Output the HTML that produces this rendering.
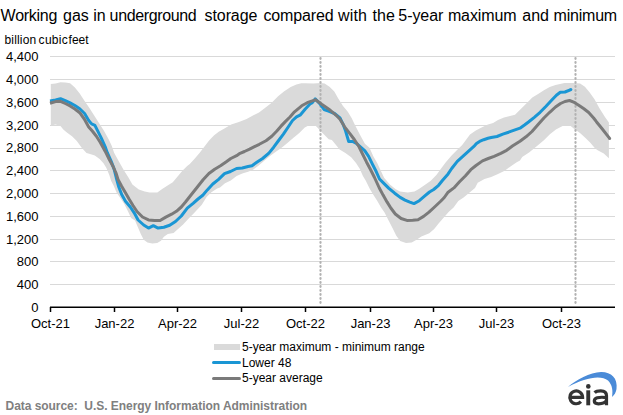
<!DOCTYPE html>
<html><head><meta charset="utf-8">
<style>
html,body{margin:0;padding:0;background:#fff;}
body{width:623px;height:415px;overflow:hidden;position:relative;}
svg{position:absolute;left:0;top:0;}
text{font-family:"Liberation Sans",sans-serif;white-space:pre;}
</style></head><body>
<svg width="623" height="415" viewBox="0 0 623 415">
<rect width="623" height="415" fill="#fff"/>
<g font-size="16" fill="#000"><text x="0.6" y="21" letter-spacing="-0.28">Working</text><text x="63.0" y="21" letter-spacing="0">gas</text><text x="93.3" y="21" letter-spacing="0">in</text><text x="109.6" y="21" letter-spacing="-0.36">underground</text><text x="204.6" y="21" letter-spacing="-0.1">storage</text><text x="263.4" y="21" letter-spacing="-0.12">compared</text><text x="337.9" y="21" letter-spacing="0.2">with</text><text x="372.6" y="21" letter-spacing="0">the</text><text x="398.3" y="21" letter-spacing="-0.05">5-year</text><text x="447.9" y="21" letter-spacing="-0.12">maximum</text><text x="522.3" y="21" letter-spacing="0">and</text><text x="553.5" y="21" letter-spacing="-0.2">minimum</text></g>
<g font-size="12" fill="#000"><text x="4.4" y="44" letter-spacing="0.2">billion</text><text x="38.6" y="44" letter-spacing="0.3">cubic</text><text x="68.6" y="44">feet</text></g>
<g stroke="#d9d9d9" stroke-width="1">
<line x1="50" x2="615" y1="56.5" y2="56.5"/>
<line x1="50" x2="615" y1="79.5" y2="79.5"/>
<line x1="50" x2="615" y1="102.5" y2="102.5"/>
<line x1="50" x2="615" y1="125.5" y2="125.5"/>
<line x1="50" x2="615" y1="148.5" y2="148.5"/>
<line x1="50" x2="615" y1="170.5" y2="170.5"/>
<line x1="50" x2="615" y1="193.5" y2="193.5"/>
<line x1="50" x2="615" y1="216.5" y2="216.5"/>
<line x1="50" x2="615" y1="239.5" y2="239.5"/>
<line x1="50" x2="615" y1="261.5" y2="261.5"/>
<line x1="50" x2="615" y1="284.5" y2="284.5"/>
</g>
<g font-size="13" fill="#000" text-anchor="end">
<text x="38.5" y="61">4,400</text>
<text x="38.5" y="84">4,000</text>
<text x="38.5" y="107">3,600</text>
<text x="38.5" y="130">3,200</text>
<text x="38.5" y="152">2,800</text>
<text x="38.5" y="175">2,400</text>
<text x="38.5" y="198">2,000</text>
<text x="38.5" y="221">1,600</text>
<text x="38.5" y="244">1,200</text>
<text x="38.5" y="266">800</text>
<text x="38.5" y="289">400</text>
<text x="38.5" y="312">0</text>
</g>
<g id="band"><polygon points="50.8,84.0 55.6,83.6 60.5,82.3 65.3,82.6 70.1,83.3 74.9,87.6 79.7,93.4 84.6,101.1 89.4,107.9 94.5,116.0 99.3,123.4 104.1,131.1 108.9,139.8 111.8,146.0 114.1,152.7 118.9,161.4 123.7,170.1 128.6,177.8 132.4,184.5 138.8,189.6 144.7,191.5 149.6,192.5 157.3,192.5 162.2,189.1 168.0,185.2 172.8,182.3 177.6,176.6 182.4,170.8 187.2,166.0 189.8,164.0 194.6,158.7 199.5,153.0 204.3,146.7 209.1,140.4 213.9,135.6 218.7,131.7 223.6,128.9 231.2,124.4 238.9,122.0 246.6,119.1 253.4,115.3 259.0,112.5 264.6,108.3 271.4,103.0 278.1,96.2 283.9,91.4 290.7,87.0 296.4,84.6 301.3,83.2 305.0,83.2 313.4,83.4 320.8,82.9 324.6,83.4 329.5,86.7 334.3,91.6 338.1,98.3 343.0,106.0 347.8,111.8 351.6,118.0 355.2,125.4 360.1,135.1 364.9,143.7 369.5,147.7 373.4,156.4 377.2,163.1 380.0,168.9 384.1,177.8 389.9,184.5 395.7,189.3 400.0,191.6 407.7,192.5 414.5,191.6 419.3,188.7 425.1,184.8 430.8,180.8 436.6,174.8 440.0,170.1 445.8,162.3 451.6,155.6 457.3,149.8 462.2,145.0 470.0,134.5 475.8,130.5 481.6,127.4 487.3,124.8 493.1,122.9 498.0,120.0 504.0,117.5 510.0,116.0 515.0,114.8 520.8,109.0 526.6,103.2 532.3,97.4 538.1,94.1 543.9,90.2 549.7,86.9 555.5,84.9 564.6,82.9 574.3,82.9 580.1,83.4 584.9,86.7 589.7,92.5 594.5,99.3 599.3,108.0 604.8,116.7 608.9,122.5 608.9,158.3 603.8,153.5 598.1,150.6 595.2,148.6 590.3,142.8 585.5,138.0 580.0,133.1 574.0,128.8 570.4,125.8 563.1,125.8 555.9,129.4 549.9,134.3 543.9,140.3 536.7,146.3 529.4,152.3 522.2,157.1 520.0,160.6 516.3,162.5 510.5,166.4 504.7,170.7 498.0,174.1 491.2,177.0 484.5,178.9 477.7,182.8 475.0,188.0 468.4,193.5 463.6,197.5 458.3,201.0 453.6,207.5 448.6,212.0 443.8,217.5 439.0,223.1 434.2,228.9 429.3,233.3 421.4,236.5 416.6,239.7 411.7,242.6 406.0,243.1 400.2,241.1 396.3,235.8 392.5,228.1 388.6,220.4 384.7,212.7 381.2,207.7 377.3,200.9 373.5,195.1 369.6,188.4 365.8,180.7 362.8,175.7 359.9,168.9 356.0,163.1 351.2,157.3 345.4,153.0 339.6,149.6 335.8,144.8 331.9,140.0 328.7,139.2 324.3,134.8 320.2,130.8 318.3,128.5 315.4,125.6 308.6,125.6 304.8,127.5 299.0,133.3 293.2,138.1 287.4,143.0 281.6,147.8 275.5,152.0 270.3,155.8 264.5,160.6 258.7,165.4 253.0,169.8 248.1,171.7 242.3,173.6 236.6,176.0 230.8,180.4 225.0,183.3 220.0,187.5 217.2,188.4 211.4,192.3 206.6,197.1 201.8,204.8 198.3,208.6 193.9,213.3 188.9,218.3 183.1,224.5 175.8,231.0 173.6,233.0 167.8,233.9 163.9,236.8 161.0,240.7 157.2,243.1 152.3,243.6 147.5,242.6 143.7,239.7 140.8,233.9 137.9,227.2 135.0,220.4 131.1,218.0 128.2,211.8 124.3,204.1 120.5,198.3 116.6,192.5 113.7,185.8 111.2,181.0 109.3,174.9 106.4,168.1 103.5,163.3 99.6,159.0 94.8,155.6 90.0,154.0 86.5,153.1 81.7,147.8 76.8,141.0 72.0,136.2 67.2,132.8 63.3,129.5 60.5,126.1 55.6,124.6 50.8,125.6" fill="#dadada"/></g>
<g stroke="#b2b2b2" stroke-width="2.2" stroke-dasharray="0.8 3.2" stroke-linecap="round">
<line x1="320.5" x2="320.5" y1="58" y2="306"/>
<line x1="575.5" x2="575.5" y1="58" y2="306"/>
</g>
<g id="lines"><polyline points="50.0,100.9 55.6,100.0 60.5,98.7 65.3,100.7 70.1,102.9 74.9,105.5 79.7,108.7 84.6,113.5 88.7,120.5 91.6,123.9 94.9,125.3 97.3,130.2 101.2,137.9 105.1,146.6 107.3,152.7 111.2,161.4 114.1,169.1 116.2,177.5 118.8,187.0 121.7,194.5 125.5,201.2 130.3,207.0 134.2,212.8 138.1,220.0 143.7,225.0 148.5,228.1 153.3,225.7 158.1,228.1 163.9,227.2 169.7,225.3 175.5,221.5 181.3,216.0 187.3,208.1 193.1,203.3 198.0,199.0 202.8,195.2 207.3,189.9 212.8,184.0 218.6,179.3 224.5,173.7 230.5,171.5 236.6,168.5 242.3,168.0 248.1,166.5 252.0,165.7 256.8,162.2 262.6,158.5 268.9,153.1 273.7,147.2 278.6,140.5 283.4,134.2 288.2,127.0 292.5,120.5 296.5,116.8 300.5,114.8 305.3,109.0 310.0,104.0 312.3,102.7 315.2,98.9 319.8,103.6 324.0,109.5 328.5,111.2 334.5,113.5 340.0,118.0 342.9,123.8 345.6,131.0 348.7,141.5 352.5,141.5 356.5,143.5 360.1,146.6 364.7,150.6 368.6,156.4 372.4,164.1 376.3,171.8 379.5,179.0 383.1,182.6 388.9,188.4 394.7,193.2 400.2,197.4 405.0,200.1 409.8,202.1 414.0,203.6 419.3,200.7 425.1,195.7 429.5,192.0 433.7,189.5 438.6,185.3 442.4,180.5 448.1,173.9 451.7,168.5 457.3,161.4 463.1,156.1 468.9,150.8 474.7,145.6 476.5,143.5 479.6,141.4 483.7,139.7 488.0,138.3 491.2,137.5 497.0,136.5 502.8,134.1 508.6,132.2 514.3,130.1 520.0,128.2 524.5,125.0 528.5,122.0 534.3,117.3 540.1,112.3 545.8,106.5 551.6,100.3 556.4,95.3 560.3,92.3 565.0,92.0 570.9,89.6" fill="none" stroke="#1a96d4" stroke-width="3" stroke-linejoin="round" stroke-linecap="butt"/><circle cx="570.9" cy="89.6" r="1.5" fill="#1a96d4"/>
<polyline points="50.0,103.3 55.6,101.6 60.5,101.3 65.3,103.5 70.1,105.9 74.9,109.0 79.7,112.7 84.3,119.0 88.7,127.0 92.5,131.3 96.4,136.2 100.2,142.2 103.5,148.3 105.4,151.7 109.3,159.5 113.1,166.5 116.0,173.0 118.0,179.5 121.5,186.0 125.3,192.5 129.2,199.3 133.0,205.5 137.0,211.5 142.5,217.0 148.5,219.9 154.5,220.4 160.1,220.5 165.8,217.1 171.6,214.2 176.4,211.3 181.3,207.0 185.5,202.0 191.4,194.5 196.6,188.0 203.1,179.8 208.9,173.5 214.7,169.2 220.5,165.8 226.0,162.0 230.8,158.5 236.6,155.7 240.0,153.3 244.5,151.5 249.6,149.2 254.5,146.7 259.3,144.3 266.0,140.7 271.8,136.2 276.6,131.3 280.8,126.4 285.3,121.6 290.0,117.0 294.5,111.8 301.7,105.8 307.2,102.7 314.5,100.1 315.5,99.8 321.7,104.3 328.9,109.2 336.2,115.3 340.0,119.2 344.6,126.8 349.5,133.1 354.3,139.5 358.9,146.5 362.8,154.5 366.6,162.2 370.5,169.5 374.5,177.5 379.3,188.0 383.1,195.1 387.0,201.9 390.8,208.0 395.3,214.0 401.1,218.5 406.9,220.4 412.7,220.2 418.0,219.7 423.6,216.4 429.0,212.1 435.1,206.5 440.9,201.0 444.3,197.5 448.1,192.2 453.9,187.9 459.5,181.7 465.3,176.0 470.8,169.7 476.0,165.5 482.5,160.9 488.3,158.5 494.1,156.3 500.8,153.3 506.6,150.3 512.4,146.0 520.0,141.2 526.0,136.8 532.0,131.5 538.1,124.5 543.9,118.0 549.7,112.3 555.5,107.0 560.5,103.5 565.0,101.5 569.5,100.5 574.3,102.4 579.1,105.5 583.9,108.8 588.7,112.5 593.6,118.0 596.4,121.7 601.9,128.5 609.6,138.4" fill="none" stroke="#7a7a7a" stroke-width="3" stroke-linejoin="round" stroke-linecap="butt"/><circle cx="609.6" cy="138.4" r="1.5" fill="#7a7a7a"/></g>
<g stroke="#000" stroke-width="1.5">
<line x1="50" x2="615" y1="307.3" y2="307.3"/>
<line x1="50.5" x2="50.5" y1="307" y2="312"/>
<line x1="114.5" x2="114.5" y1="307" y2="312"/>
<line x1="177.5" x2="177.5" y1="307" y2="312"/>
<line x1="241.5" x2="241.5" y1="307" y2="312"/>
<line x1="305.5" x2="305.5" y1="307" y2="312"/>
<line x1="370.5" x2="370.5" y1="307" y2="312"/>
<line x1="433.5" x2="433.5" y1="307" y2="312"/>
<line x1="496.5" x2="496.5" y1="307" y2="312"/>
<line x1="561.5" x2="561.5" y1="307" y2="312"/>
</g>
<g font-size="13" fill="#000" text-anchor="middle">
<text x="50.5" y="328">Oct-21</text>
<text x="114.5" y="328">Jan-22</text>
<text x="177.5" y="328">Apr-22</text>
<text x="241.5" y="328">Jul-22</text>
<text x="305.5" y="328">Oct-22</text>
<text x="370.5" y="328">Jan-23</text>
<text x="433.5" y="328">Apr-23</text>
<text x="496.5" y="328">Jul-23</text>
<text x="561.5" y="328">Oct-23</text>
</g>
<rect x="214" y="344" width="26" height="6" fill="#dadada"/>
<line x1="213.5" x2="239.5" y1="362.5" y2="362.5" stroke="#1a96d4" stroke-width="3" stroke-linecap="round"/>
<line x1="213.5" x2="239.5" y1="378.5" y2="378.5" stroke="#7a7a7a" stroke-width="3" stroke-linecap="round"/>
<g font-size="12" fill="#000">
<text x="242" y="351">5-year maximum - minimum range</text>
<text x="242" y="366.5">Lower 48</text>
<text x="242" y="382">5-year average</text>
</g>
<text x="5.5" y="409.5" font-size="12" font-weight="bold" letter-spacing="-0.04" fill="#808080">Data source:  U.S. Energy Information Administration</text>
<g id="logo">
<path d="M568 386.9 C576 380 590 372.2 601 372 C611 371.8 618 378 616.5 389 C616 392 614.5 395 612 397 C613 391 612.5 385 608 380.5 C601 374.5 585 377.5 568 386.9 Z" fill="#4a8bd8"/>
<g fill="none" stroke="#333" stroke-width="3.2">
<path d="M569.8 397.3 H582.6 A6.4 6.4 0 1 0 580.9 401.7"/>
<path d="M594.6 392.6 C596 391.2 598.5 390.8 600.8 390.8 C604.6 390.8 606.5 392.6 606.5 395.8 V405.3"/>
<path d="M606.5 397.6 C603.5 397.2 599.5 397.2 597.2 397.8 C595.2 398.4 594.3 399.8 594.3 401.1 C594.3 402.9 595.9 403.8 598.4 403.8 C602.2 403.8 605.6 402.4 606.5 400.4"/>
</g>
<rect x="586.3" y="390.3" width="3.9" height="15" fill="#333"/>
<circle cx="588.3" cy="386.4" r="2.3" fill="#333"/>
</g>
</svg>
</body></html>
